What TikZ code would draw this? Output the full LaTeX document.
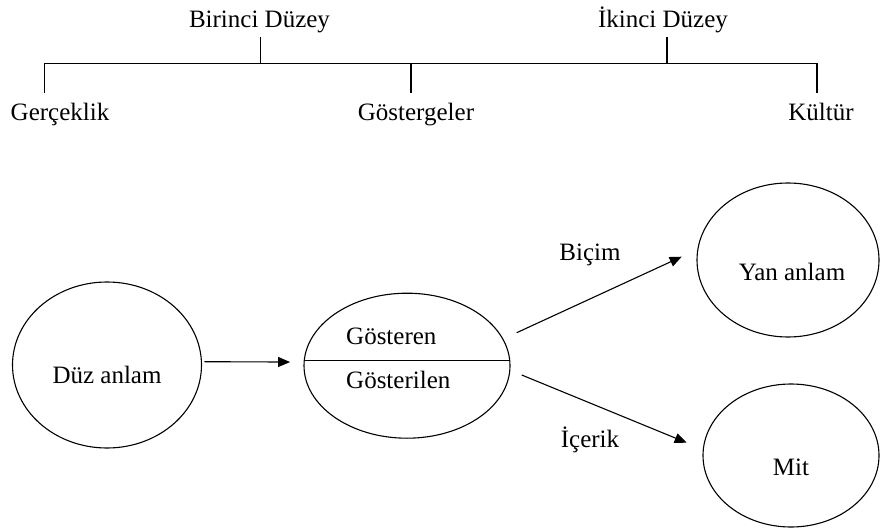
\documentclass[tikz,border=0pt]{standalone}
\usepackage{fontspec}
\setmainfont{Liberation Serif}
\usetikzlibrary{shapes.geometric,arrows.meta}
\begin{document}
\begin{tikzpicture}[x=1pt,y=-1pt,
  every node/.style={font=\fontsize{25}{30}\selectfont, inner sep=0pt},
  txt/.style={anchor=base},
  oval/.style={draw, ellipse, line width=1.1pt, inner sep=0pt},
  link/.style={line width=1.1pt},
  arrowlink/.style={line width=1.1pt, -{Triangle[length=12pt,width=10pt]}}]

\useasboundingbox (0,0) rectangle (880,529);

% --- level tree ---
\node[txt] (bir) at (259.5,28) {Birinci Düzey};
\node[txt] (iki) at (663,28) {İkinci Düzey};
\node[txt] (ger) at (60,121) {Gerçeklik};
\node[txt] (gst) at (416,121) {Göstergeler};
\node[txt] (kul) at (821,121) {Kültür};

\coordinate (birtop) at (260.5,37);
\coordinate (ikitop) at (667,37);
\coordinate (hl) at (44.5,63.5);
\coordinate (hr) at (817,63.5);
\coordinate (gerbot) at (44.5,93);
\coordinate (gstbot) at (411,93);
\coordinate (kulbot) at (817,93);

\draw[link] (hl) -- (hr);
\draw[link] (birtop) -- (birtop |- hl);
\draw[link] (ikitop) -- (ikitop |- hl);
\draw[link] (gerbot |- hl) -- (gerbot);
\draw[link] (gstbot |- hl) -- (gstbot);
\draw[link] (kulbot |- hl) -- (kulbot);

% --- meaning diagram ---
\node[oval, minimum width=189pt, minimum height=166pt] (duz) at (107,365) {};
\node[txt] at (107,383) {Düz anlam};

\node[oval, minimum width=206pt, minimum height=145pt] (gos) at (407,365.7) {};
\draw[link] (gos.177) -- (gos.3);
\node[txt, anchor=base west] at (346,344) {Gösteren};
\node[txt, anchor=base west] at (346,388) {Gösterilen};

\node[oval, minimum width=182pt, minimum height=154pt] (yan) at (788,260) {};
\node[txt] at (792,280) {Yan anlam};

\node[oval, minimum width=176pt, minimum height=143pt] (mit) at (791,455.5) {};
\node[txt] at (791,475) {Mit};

\draw[arrowlink, shorten <=2.5pt, shorten >=13.5pt] (duz.2) -- (gos.178);

\coordinate (bs) at (516.7,332.7);
\coordinate (be) at (681.7,256.7);
\coordinate (is) at (521.7,375);
\coordinate (ie) at (686.7,442.7);
\draw[arrowlink] (bs) -- (be);
\draw[arrowlink] (is) -- (ie);

\node[txt] at (590,261) {Biçim};
\node[txt] at (590,447) {İçerik};

\end{tikzpicture}
\end{document}
